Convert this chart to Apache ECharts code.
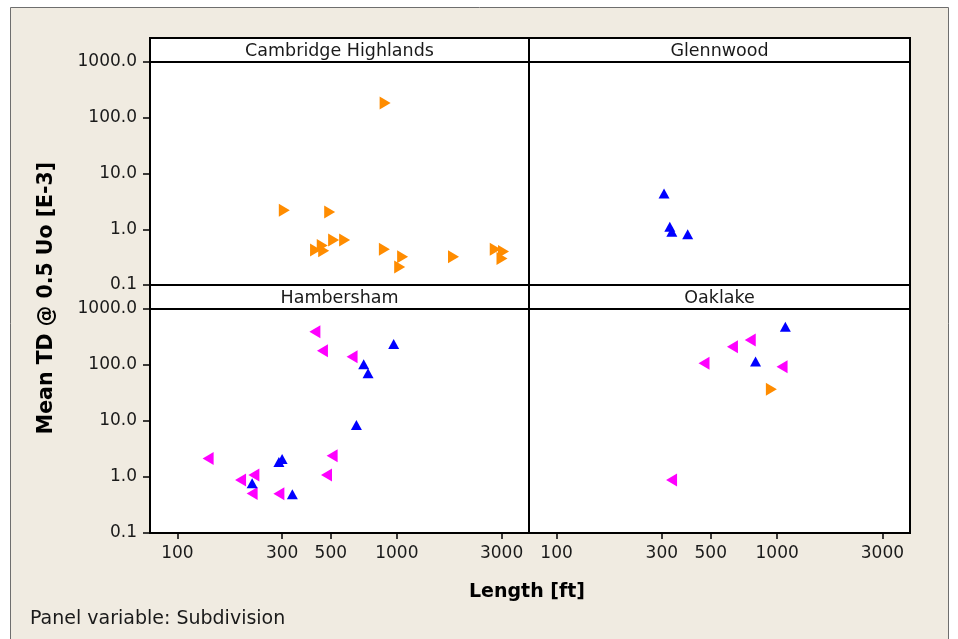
<!DOCTYPE html>
<html>
<head>
<meta charset="utf-8">
<script src="https://cdn.jsdelivr.net/npm/echarts@6/dist/echarts.min.js"></script>
<style>
  html, body { margin: 0; padding: 0; background: #ffffff; }
  #chart { width: 958px; height: 639px; }
</style>
</head>
<body>
<div id="chart"></div>
<script>
// Panel titles (Subdivision), in row-major order
const panelNames = ['Cambridge Highlands', 'Glennwood', 'Hambersham', 'Oaklake'];

// Tick values for the log axes
const xTicks = [100, 300, 500, 1000, 3000];
const yTicks = [0.1, 1, 10, 100, 1000];

// Points as [Length (ft), Mean TD @ 0.5 Uo (E-3)]
const camOrange = [
  [884, 184], [307, 2.19], [494, 2.04], [426, 0.425], [457, 0.51], [464, 0.41],
  [515, 0.64], [578, 0.64], [877, 0.44], [1062, 0.32], [1030, 0.21], [1812, 0.32],
  [2808, 0.44], [3062, 0.40], [3013, 0.30]
];
const glenBlue = [[307, 4.4], [326, 1.11], [333, 0.90], [393, 0.81]];
const hamMagenta = [
  [423, 393], [458, 180], [625, 141], [138, 2.15], [507, 2.4], [478, 1.09],
  [194, 0.88], [223, 1.09], [219, 0.51], [290, 0.50]
];
const hamBlue = [
  [967, 237], [706, 103], [739, 71], [654, 8.5], [300, 2.1], [290, 1.85],
  [219, 0.77], [334, 0.49]
];
const oakBlue = [[1089, 483], [798, 115]];
const oakMagenta = [[755, 280], [627, 212], [466, 107], [1052, 93], [332, 0.88]];
const oakOrange = [[941, 37]];

const FONT = 'DejaVu Sans';
const BEIGE = '#f0ebe1';
const ORANGE = '#ff8c00';
const BLUE = '#0000ff';
const MAGENTA = '#ff00ff';

// Panel geometry: two columns, two rows
const colLeft = [150, 529];
const colWidth = [379, 381];
const rowTop = [62, 309];
const rowHeight = [223, 224];
const stripHeight = 24;

const grids = [];
const xAxes = [];
const yAxes = [];
for (let r = 0; r < 2; r++) {
  for (let c = 0; c < 2; c++) {
    grids.push({
      left: colLeft[c], top: rowTop[r], width: colWidth[c], height: rowHeight[r],
      show: true, backgroundColor: '#ffffff', borderColor: '#000000', borderWidth: 2,
      containLabel: false
    });
    const idx = r * 2 + c;
    const bottomRow = r === 1;
    const leftCol = c === 0;
    xAxes.push({
      type: 'log', logBase: 10, gridIndex: idx, min: 75, max: 4000,
      axisLine: { show: false },
      splitLine: { show: false },
      axisTick: {
        show: bottomRow, inside: false, length: 6, customValues: xTicks,
        lineStyle: { color: '#000000', width: 1.5 }
      },
      axisLabel: {
        show: bottomRow, customValues: xTicks, margin: 12,
        fontFamily: FONT, fontSize: 17, color: '#1a1a1a',
        formatter: v => String(Math.round(v))
      }
    });
    yAxes.push({
      type: 'log', logBase: 10, gridIndex: idx, min: 0.1, max: 1000,
      axisLine: { show: false },
      splitLine: { show: false },
      axisTick: {
        show: leftCol, inside: false, length: 7, customValues: yTicks,
        lineStyle: { color: '#000000', width: 1.5 }
      },
      axisLabel: {
        show: leftCol, customValues: yTicks, margin: 13,
        fontFamily: FONT, fontSize: 17, color: '#1a1a1a',
        formatter: v => Number(v).toFixed(1)
      }
    });
  }
}

function pts(panel, data, color, rotate, size) {
  return {
    type: 'scatter', xAxisIndex: panel, yAxisIndex: panel, data: data,
    symbol: 'triangle', symbolRotate: rotate, symbolSize: size,
    itemStyle: { color: color, opacity: 1 },
    emphasis: { disabled: true }, silent: true, animation: false
  };
}

const series = [
  pts(0, camOrange, ORANGE, -90, [13, 11]),
  pts(1, glenBlue, BLUE, 0, [11, 10]),
  pts(2, hamMagenta, MAGENTA, 90, [13, 11]),
  pts(2, hamBlue, BLUE, 0, [11, 10]),
  pts(3, oakOrange, ORANGE, -90, [13, 11]),
  pts(3, oakBlue, BLUE, 0, [11, 10]),
  pts(3, oakMagenta, MAGENTA, 90, [13, 11])
];

// Frame, strip headers and titles
const graphics = [
  {
    type: 'rect', z: -10, silent: true,
    shape: { x: 10.5, y: 7.5, width: 938, height: 650 },
    style: { fill: BEIGE, stroke: '#6e6e6e', lineWidth: 1 }
  }
];
for (let r = 0; r < 2; r++) {
  for (let c = 0; c < 2; c++) {
    const x = colLeft[c], w = colWidth[c], y = rowTop[r] - stripHeight;
    graphics.push({
      type: 'rect', silent: true, z: 5,
      shape: { x: x, y: y, width: w, height: stripHeight },
      style: { fill: '#ffffff', stroke: '#000000', lineWidth: 2 }
    });
    graphics.push({
      type: 'text', silent: true, z: 6,
      x: x + w / 2, y: y + stripHeight / 2 + 1,
      style: {
        text: panelNames[r * 2 + c], font: '17.5px "' + FONT + '"', fill: '#1a1a1a',
        textAlign: 'center', textVerticalAlign: 'middle'
      }
    });
  }
}
graphics.push({
  type: 'text', silent: true, z: 6,
  x: 47, y: 298, rotation: Math.PI / 2,
  style: {
    text: 'Mean TD @ 0.5 Uo [E-3]', font: 'bold 20.5px "' + FONT + '"', fill: '#000000',
    textAlign: 'center', textVerticalAlign: 'middle'
  }
});
graphics.push({
  type: 'text', silent: true, z: 6,
  x: 527, y: 592,
  style: {
    text: 'Length [ft]', font: 'bold 19px "' + FONT + '"', fill: '#000000',
    textAlign: 'center', textVerticalAlign: 'middle'
  }
});
graphics.push({
  type: 'text', silent: true, z: 6,
  x: 30, y: 619,
  style: {
    text: 'Panel variable: Subdivision', font: '19px "' + FONT + '"', fill: '#1a1a1a',
    textAlign: 'left', textVerticalAlign: 'middle'
  }
});

const chart = echarts.init(document.getElementById('chart'), null, { renderer: 'canvas' });
chart.setOption({
  animation: false,
  backgroundColor: '#ffffff',
  grid: grids,
  xAxis: xAxes,
  yAxis: yAxes,
  series: series,
  graphic: graphics
});
</script>
</body>
</html>
